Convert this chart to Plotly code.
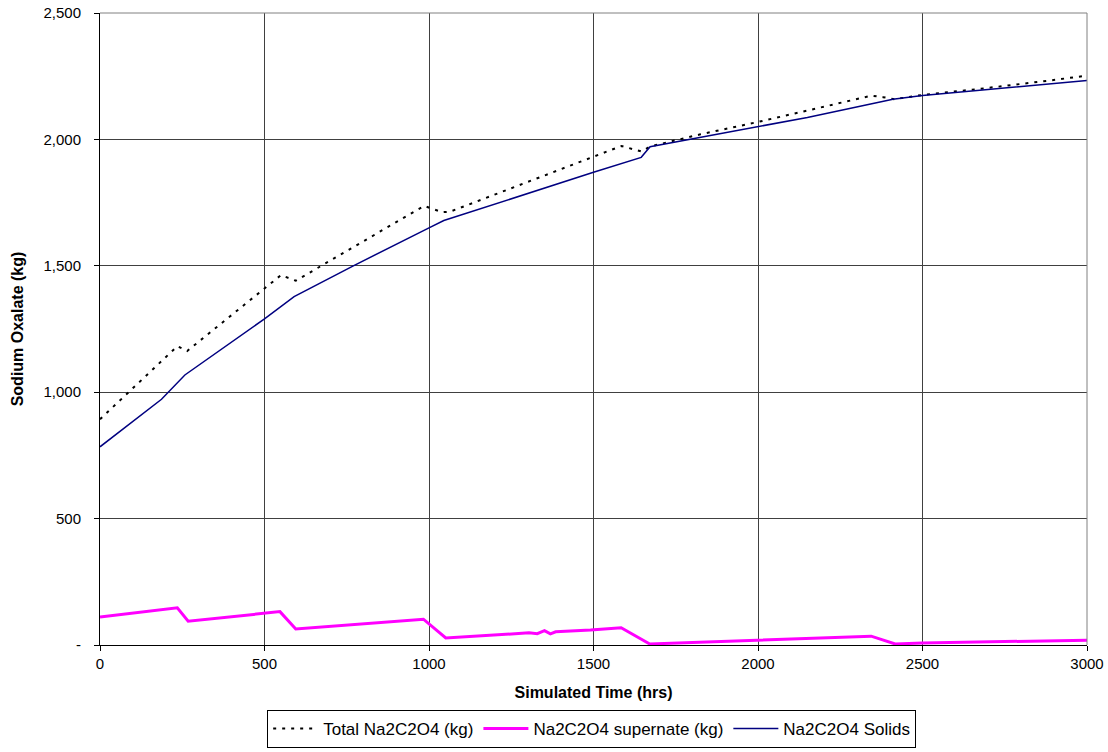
import plotly.graph_objects as go

# Simulated time (hrs) and sodium oxalate inventory (kg)
total_t = [0, 235, 265, 550, 595, 985, 1040, 1064, 1585, 1646, 1672, 1825, 2000, 2150,
           2345, 2380, 2415, 2500, 2675, 2880, 3000]
total_kg = [893, 1182, 1163, 1463, 1441, 1737, 1712, 1714, 1974, 1952, 1972, 2020, 2069, 2114,
            2173, 2167, 2159, 2176, 2200, 2232, 2252]

sup_t = [0, 235, 268, 547, 595, 983, 1051, 1304, 1329, 1351, 1369, 1385, 1491, 1584,
         1671, 2000, 2344, 2417, 2500, 3000]
sup_kg = [111, 147, 94, 132, 63, 102, 28, 48, 45, 57, 44, 52, 59, 68,
          4, 20, 35, 4, 8, 19]

solids_t = [0, 187, 258, 500, 590, 770, 1000, 1045, 1500, 1645, 1672, 2000, 2150,
            2410, 2500, 3000]
solids_kg = [784, 972, 1068, 1290, 1378, 1500, 1650, 1679, 1870, 1929, 1971, 2050, 2087,
             2159, 2174, 2233]

x_ticks = [0, 500, 1000, 1500, 2000, 2500, 3000]
y_ticks = [0, 500, 1000, 1500, 2000, 2500]
y_tick_text = ["-", "500", "1,000", "1,500", "2,000", "2,500"]

FONT = "Liberation Sans, Arial, sans-serif"

fig = go.Figure()
fig.add_trace(go.Scatter(
    x=total_t, y=total_kg, mode="lines", name="Total Na2C2O4 (kg)",
    line=dict(color="black", width=2, dash="3px,6px"),
))
fig.add_trace(go.Scatter(
    x=sup_t, y=sup_kg, mode="lines", name="Na2C2O4 supernate (kg)",
    line=dict(color="#FF00FF", width=3),
))
fig.add_trace(go.Scatter(
    x=solids_t, y=solids_kg, mode="lines", name="Na2C2O4 Solids",
    line=dict(color="#000080", width=1.5),
))

fig.update_layout(
    width=1108, height=752,
    margin=dict(l=100, r=21, t=13, b=107),
    paper_bgcolor="white", plot_bgcolor="white",
    font=dict(family=FONT, size=15, color="black"),
    showlegend=True,
    legend=dict(
        orientation="h", x=0.534, xanchor="center", xref="container",
        y=0.056, yanchor="top", yref="container",
        bordercolor="black", borderwidth=1, font=dict(size=17),
        itemwidth=45, tracegroupgap=0,
    ),
)
fig.update_xaxes(
    range=[0, 3000], tickvals=x_ticks, ticktext=[str(v) for v in x_ticks],
    automargin=False,
    showgrid=True, gridcolor="#404040", gridwidth=1,
    showline=True, linecolor="black", linewidth=1, mirror=False,
    ticks="outside", ticklen=5, tickcolor="black",
    tickfont=dict(size=15), zeroline=False,
    title=dict(text="<b>Simulated Time (hrs)</b>", font=dict(size=16), standoff=15),
)
fig.update_yaxes(
    range=[0, 2500], tickvals=y_ticks, ticktext=y_tick_text,
    automargin=False,
    showgrid=True, gridcolor="#404040", gridwidth=1,
    showline=True, linecolor="black", linewidth=1,
    ticks="outside", ticklen=5, tickcolor="black",
    tickfont=dict(size=15), zeroline=False, ticklabelstandoff=10,
    title=dict(text="<b>Sodium Oxalate (kg)</b>", font=dict(size=16), standoff=15),
)
# grey frame along the top and right edges of the plot area
fig.add_shape(type="line", xref="paper", yref="paper", x0=0, x1=1, y0=1, y1=1,
              line=dict(color="#808080", width=1))
fig.add_shape(type="line", xref="paper", yref="paper", x0=1, x1=1, y0=0, y1=1,
              line=dict(color="#808080", width=1))

fig.write_html("out.html")
